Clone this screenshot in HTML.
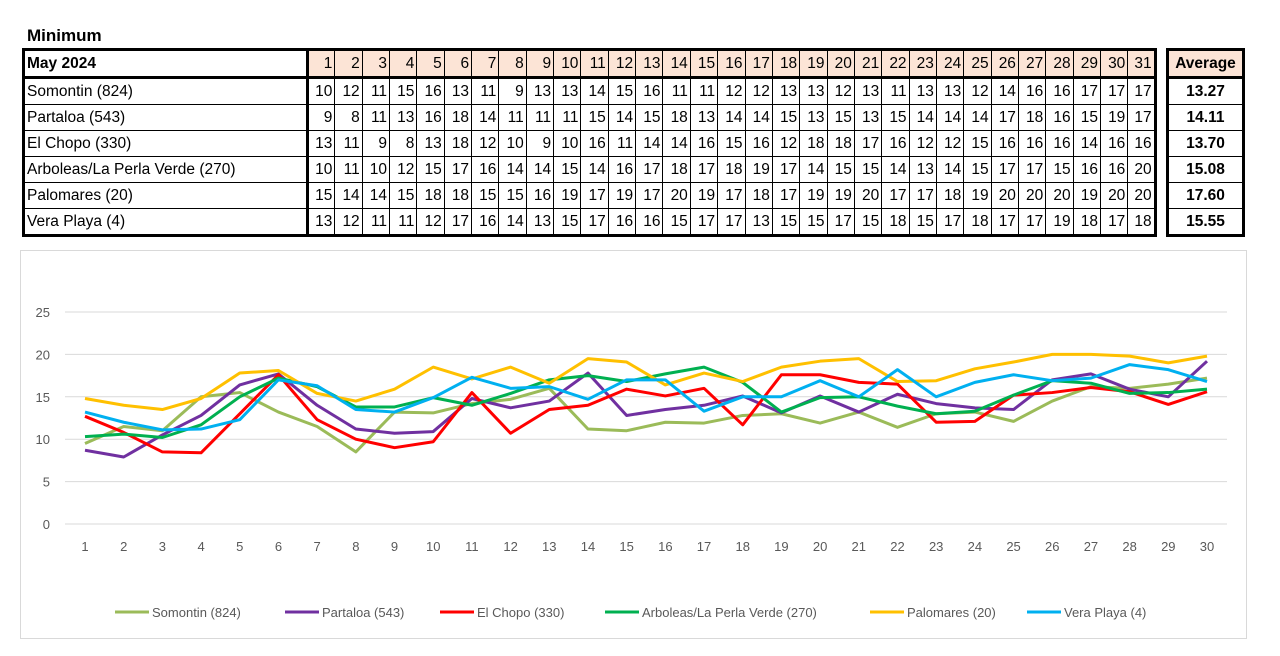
<!DOCTYPE html>
<html><head><meta charset="utf-8">
<style>
body{margin:0;width:1280px;height:656px;background:#fff;font-family:"Liberation Sans",sans-serif;position:relative;overflow:hidden}
.title{position:absolute;left:27px;top:26px;font-weight:bold;font-size:17px}
table{position:absolute;border-collapse:collapse;font-size:15.5px;table-layout:fixed}
td{border:1px solid #000;height:25px;padding:0 2px;white-space:nowrap;overflow:hidden;text-align:right}
#main{left:22px;top:48px;width:1132px;border:3px solid #000}
#avg{left:1166px;top:48px;width:79px;border:3px solid #000}
#avg td{text-align:center;font-weight:bold;padding:0}
.hd td{background:#FCE4D6;border-bottom:3px solid #000}
td.nm{text-align:left;border-right:3px solid #000;background:#fff}
#chartbox{position:absolute;left:20px;top:250px;width:1225px;height:387px;border:1px solid #d9d9d9}
</style></head><body>
<div class="title">Minimum</div>
<table id="main"></table>
<table id="avg"></table>
<div id="chartbox"></div>
<svg id="chart" width="1280" height="656" style="position:absolute;left:0;top:0"></svg>
<script>
const stations=["Somontin (824)","Partaloa (543)","El Chopo (330)","Arboleas/La Perla Verde (270)","Palomares (20)","Vera Playa (4)"];
const colors=["#9BBB59","#7030A0","#FF0000","#00B050","#FFC000","#00B0F0"];
const tableSomontin=[10,12,11,15,16,13,11,9,13,13,14,15,16,11,11,12,12,13,13,12,13,11,13,13,12,14,16,16,17,17,17];
const tablePartaloa=[9,8,11,13,16,18,14,11,11,11,15,14,15,18,13,14,14,15,13,15,13,15,14,14,14,17,18,16,15,19,17];
const tableChopo=[13,11,9,8,13,18,12,10,9,10,16,11,14,14,16,15,16,12,18,18,17,16,12,12,15,16,16,16,14,16,16];
const tableArboleas=[10,11,10,12,15,17,16,14,14,15,14,16,17,18,17,18,19,17,14,15,15,14,13,14,15,17,17,15,16,16,20];
const tablePalomares=[15,14,14,15,18,18,15,15,16,19,17,19,17,20,19,17,18,17,19,19,20,17,17,18,19,20,20,20,19,20,20];
const tableVera=[13,12,11,11,12,17,16,14,13,15,17,16,16,15,17,17,13,15,15,17,15,18,15,17,18,17,17,19,18,17,18];
const averages=["13.27","14.11","13.70","15.08","17.60","15.55"];
const days=[1,2,3,4,5,6,7,8,9,10,11,12,13,14,15,16,17,18,19,20,21,22,23,24,25,26,27,28,29,30];
const serSomontin=[9.5,11.5,11,15,15.5,13.2,11.5,8.5,13.2,13.1,14.2,14.7,16,11.2,11,12,11.9,12.8,13,11.9,13.2,11.4,13,13.2,12.1,14.5,16.2,16,16.5,17.2];
const serPartaloa=[8.7,7.9,10.5,12.8,16.4,17.7,14,11.2,10.7,10.9,14.8,13.7,14.5,17.8,12.8,13.5,14,15.1,13.1,15.1,13.2,15.3,14.2,13.7,13.5,17,17.7,15.9,15,19.2];
const serChopo=[12.7,10.8,8.5,8.4,13,17.6,12.3,10,9,9.7,15.5,10.7,13.5,14,15.9,15.1,16,11.7,17.6,17.6,16.7,16.5,12,12.1,15.2,15.5,16.1,15.6,14.1,15.6];
const serArboleas=[10.3,10.6,10.2,11.7,15,17.2,16.2,13.8,13.8,14.9,14,15.4,17,17.5,16.8,17.7,18.5,16.7,13.2,14.9,15,13.9,13,13.3,15.2,16.9,16.6,15.4,15.5,15.9];
const serPalomares=[14.8,14,13.5,14.8,17.8,18.1,15.4,14.5,15.9,18.5,17.1,18.5,16.6,19.5,19.1,16.4,17.8,16.8,18.5,19.2,19.5,16.8,16.9,18.3,19.1,20,20,19.8,19,19.8];
const serVera=[13.2,12,11.1,11.2,12.3,17,16.3,13.5,13.2,14.9,17.3,16,16.2,14.7,17,17,13.3,15,15,16.9,15,18.2,15,16.7,17.6,16.9,17.2,18.8,18.2,16.8];
const yTicks=[0,5,10,15,20,25];
const tableRows=[tableSomontin,tablePartaloa,tableChopo,tableArboleas,tablePalomares,tableVera];
const series=[serSomontin,serPartaloa,serChopo,serArboleas,serPalomares,serVera];

const main=document.getElementById('main');
const cg=document.createElement('colgroup');
let c=document.createElement('col');c.style.width='284px';cg.appendChild(c);
for(let i=0;i<31;i++){c=document.createElement('col');c.style.width='27.35px';cg.appendChild(c);}
main.appendChild(cg);
let tr=document.createElement('tr');tr.className='hd';
let td=document.createElement('td');td.className='nm';td.style.fontWeight='bold';td.textContent='May 2024';


tr.appendChild(td);
for(let d=1;d<=31;d++){td=document.createElement('td');td.textContent=d;


tr.appendChild(td);}
main.appendChild(tr);
tableRows.forEach((row,i)=>{tr=document.createElement('tr');


td=document.createElement('td');td.className='nm';td.textContent=stations[i];


tr.appendChild(td);
row.forEach(v=>{td=document.createElement('td');td.textContent=v;


tr.appendChild(td);});
main.appendChild(tr);});
const avg=document.getElementById('avg');
tr=document.createElement('tr');tr.className='hd';td=document.createElement('td');td.textContent='Average';


tr.appendChild(td);avg.appendChild(tr);
averages.forEach(a=>{tr=document.createElement('tr');td=document.createElement('td');td.textContent=a;


tr.appendChild(td);avg.appendChild(tr);});

const svg=document.getElementById('chart');const NS='http://www.w3.org/2000/svg';
const x0=85,x1=1207,yb=524,yt=312,ymax=25;
const X=i=>x0+(x1-x0)*i/(days.length-1);
const Y=v=>yb-(yb-yt)*v/ymax;
function mk(t,a){const e=document.createElementNS(NS,t);for(const k in a)e.setAttribute(k,a[k]);svg.appendChild(e);return e;}
yTicks.forEach(t=>{const g=mk('line',{x1:65,x2:1227,y1:Y(t),y2:Y(t),stroke:'#d9d9d9','stroke-width':1});


const l=mk('text',{x:50,y:Y(t)+5,'text-anchor':'end','font-size':13,fill:'#595959'});l.textContent=t;

});
days.forEach((d,i)=>{const l=mk('text',{x:X(i),y:551,'text-anchor':'middle','font-size':13,fill:'#595959'});l.textContent=d;

});
series.forEach((s,k)=>{const p=mk('polyline',{points:s.map((v,i)=>X(i)+','+Y(v)).join(' '),fill:'none',stroke:colors[k],'stroke-width':3,'stroke-linejoin':'round'});

});
const legX=[115,285,440,605,870,1027];
stations.forEach((s,k)=>{const l=mk('line',{x1:legX[k],x2:legX[k]+34,y1:612,y2:612,stroke:colors[k],'stroke-width':3});


const t=mk('text',{x:legX[k]+37,y:617,'font-size':13,fill:'#595959'});t.textContent=s;

});
</script>
</body></html>
